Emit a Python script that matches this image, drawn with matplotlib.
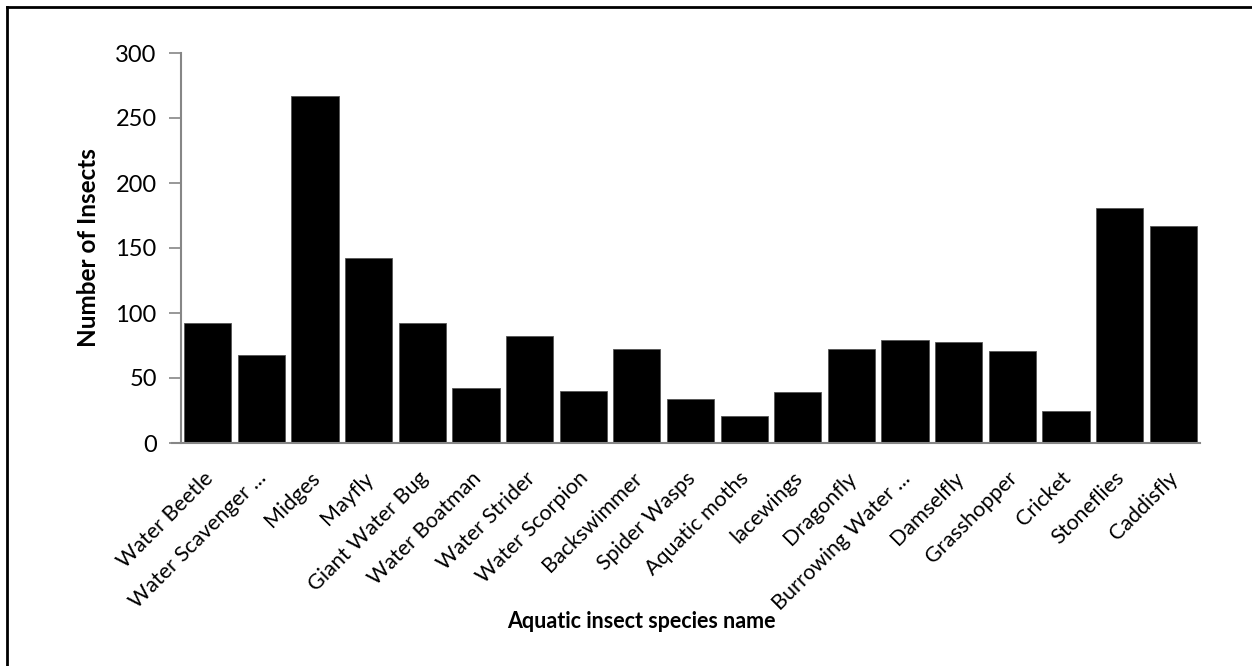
import matplotlib
matplotlib.use("Agg")
import matplotlib.pyplot as plt
from matplotlib.lines import Line2D
from matplotlib.transforms import ScaledTranslation

plt.rcParams['font.family'] = ['Lato', 'DejaVu Sans']

species = ["Water Beetle", "Water Scavenger ...", "Midges", "Mayfly",
           "Giant Water Bug", "Water Boatman", "Water Strider",
           "Water Scorpion", "Backswimmer", "Spider Wasps", "Aquatic moths",
           "lacewings", "Dragonfly", "Burrowing Water ...", "Damselfly",
           "Grasshopper", "Cricket", "Stoneflies", "Caddisfly"]
counts = [92, 68, 267, 142, 92, 42, 82, 40, 72, 34, 21, 39, 72, 79, 78,
          71, 25, 181, 167]
y_ticks = [0, 50, 100, 150, 200, 250, 300]

W, H = 1252, 666
fig = plt.figure(figsize=(W / 100, H / 100), dpi=100)
ax = fig.add_axes([181 / W, 1 - 443 / H, (1200 - 181) / W, (443 - 53) / H])

x = range(len(species))
ax.bar(x, counts, width=0.88, color="black", edgecolor="#555555",
       linewidth=0.6)
ax.set_xlim(-0.5, len(species) - 0.5)
ax.set_ylim(0, 300)
ax.set_yticks(y_ticks)
ax.set_yticklabels([str(v) for v in y_ticks], fontsize=17)
ax.set_xticks(list(x))
ax.set_xticklabels(species, rotation=45, ha="right", rotation_mode="anchor",
                   fontsize=15.5)
ax.tick_params(axis="x", length=0, pad=18)
ax.tick_params(axis="y", length=9, width=1.2, color="#868686", pad=8.5)

# slide the slanted names a little to the left
shift = ScaledTranslation(-5 / 100, 0, fig.dpi_scale_trans)
for lbl in ax.get_xticklabels():
    lbl.set_transform(lbl.get_transform() + shift)

for side in ["top", "right"]:
    ax.spines[side].set_visible(False)
for side in ["left", "bottom"]:
    ax.spines[side].set_color("#868686")
    ax.spines[side].set_linewidth(1.5)
ax.spines["bottom"].set_bounds(-0.5 - 9 / 53.6, len(species) - 0.5)

ax.set_ylabel("Number of Insects", fontsize=17.5, fontweight="bold")
ax.yaxis.set_label_coords((100 - 181) / (1200 - 181), 0.5)
fig.text(641 / W, 1 - 622 / H, "Aquatic insect species name", fontsize=15.5,
         fontweight="bold", ha="center", va="center")

# frame edges along the top and left
fig.add_artist(Line2D([7 / W, 7 / W], [0, 1 - 7 / H], color="black",
                      linewidth=2, transform=fig.transFigure))
fig.add_artist(Line2D([7 / W, 1], [1 - 7 / H, 1 - 7 / H], color="black",
                      linewidth=2, transform=fig.transFigure))

fig.savefig("out.png", dpi=100)
